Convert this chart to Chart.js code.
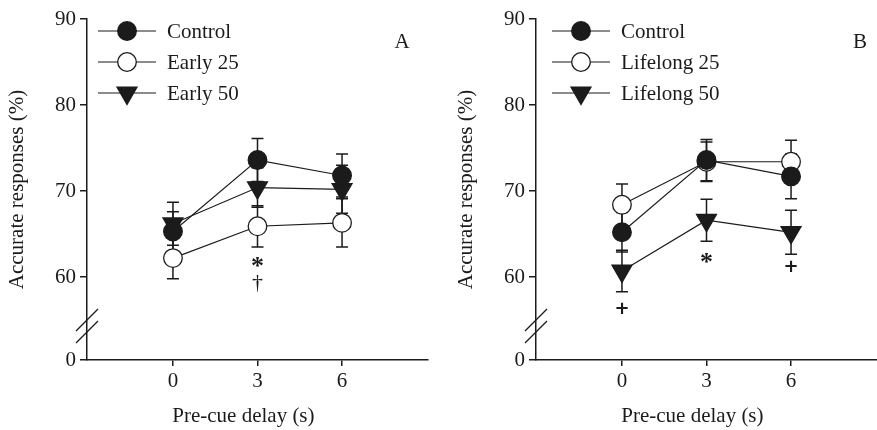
<!DOCTYPE html>
<html lang="en">
<head>
<meta charset="UTF-8">
<title>Accurate responses</title>
<script src="https://cdn.jsdelivr.net/npm/chart.js"></script>
<style>
    body { margin: 0; background: #fff; }
    .panel { position: absolute; top: 0; }
    #panelA { left: 0; }
    #panelB { left: 449px; }
</style>
</head>
<body>
<div class="panel" id="panelA"><canvas id="chartA" width="437" height="430"></canvas></div>
<div class="panel" id="panelB"><canvas id="chartB" width="428" height="430"></canvas></div>

<script>
// pre-cue delays (s)
const delays = [0, 3, 6];

// y axis is broken: the bottom tick "0" sits just under 60
const yTickValues = [50.35, 60, 70, 80, 90];
const yTickLabels = ['0', '60', '70', '80', '90'];

// panel A
const controlA = [65.3, 73.6, 71.8];
const controlAErr = [2.3, 2.5, 2.5];
const early25 = [62.2, 65.9, 66.3];
const early25Err = [2.4, 2.4, 2.8];
const early50 = [66.2, 70.4, 70.2];
const early50Err = [2.5, 2.3, 2.8];
const marksA = [{ x: 3, y: 61.7, t: '*' }, { x: 3, y: 59.3, t: '\u2020' }];

// panel B
const controlB = [65.2, 73.6, 71.7];
const controlBErr = [2.3, 2.4, 2.6];
const lifelong25 = [68.4, 73.4, 73.4];
const lifelong25Err = [2.4, 2.3, 2.5];
const lifelong50 = [60.7, 66.6, 65.2];
const lifelong50Err = [2.4, 2.45, 2.55];
const marksB = [{ x: 0, y: 56.4, t: '+' }, { x: 3, y: 62.2, t: '*' }, { x: 6, y: 61.3, t: '+' }];

const ink = '#1b1b1b';
const serif = '"Liberation Serif", "DejaVu Serif", serif';

// fonts for the significance marks
const markFonts = {
    '*': 'bold 26px ' + serif,
    '+': 'bold 18px "DejaVu Sans", sans-serif',
    '\u2020': '22px ' + serif
};

function series(label, values, errs, kind) {
    const filled = kind !== 'open';
    return {
        label: label,
        data: values.map((v, i) => ({ x: delays[i], y: v })),
        errs: errs,
        kind: kind,
        borderColor: ink,
        borderWidth: 1.2,
        pointStyle: kind === 'tri' ? 'triangle' : 'circle',
        rotation: kind === 'tri' ? 180 : 0,
        pointRadius: kind === 'tri' ? 11.5 : 9.3,
        pointBackgroundColor: filled ? ink : '#fff',
        pointBorderColor: ink,
        pointBorderWidth: 1.3,
        fill: false
    };
}

function drawMarker(ctx, kind, x, y) {
    ctx.save();
    ctx.fillStyle = kind === 'open' ? '#fff' : ink;
    ctx.strokeStyle = ink;
    ctx.lineWidth = 1.3;
    ctx.beginPath();
    if (kind === 'tri') {
        const r = 11.5;
        ctx.moveTo(x - r * 0.866, y - r / 2);
        ctx.lineTo(x + r * 0.866, y - r / 2);
        ctx.lineTo(x, y + r);
        ctx.closePath();
    } else {
        ctx.arc(x, y, 9.3, 0, Math.PI * 2);
    }
    ctx.fill();
    ctx.stroke();
    ctx.restore();
}

function makeChart(id, sets, marks, cfg) {
    const decor = {
        id: 'decor',
        beforeDatasetsDraw(chart) {
            const ctx = chart.ctx, xs = chart.scales.x, ys = chart.scales.y;
            ctx.save();
            ctx.strokeStyle = ink;
            ctx.lineWidth = 1.5;
            chart.data.datasets.forEach(ds => {
                ds.data.forEach((p, i) => {
                    const px = xs.getPixelForValue(p.x);
                    const top = ys.getPixelForValue(p.y + ds.errs[i]);
                    const bot = ys.getPixelForValue(p.y - ds.errs[i]);
                    ctx.beginPath();
                    ctx.moveTo(px, top); ctx.lineTo(px, bot);
                    ctx.moveTo(px - 6, top); ctx.lineTo(px + 6, top);
                    ctx.moveTo(px - 6, bot); ctx.lineTo(px + 6, bot);
                    ctx.stroke();
                });
            });
            ctx.restore();
        },
        afterDraw(chart) {
            const ctx = chart.ctx, xs = chart.scales.x, ys = chart.scales.y;
            ctx.save();
            // axis break
            const ax = chart.chartArea.left;
            const by = ys.getPixelForValue(54.3);
            ctx.strokeStyle = ink;
            ctx.lineWidth = 1.2;
            [-6, 6].forEach(d => {
                ctx.beginPath();
                ctx.moveTo(ax - 11, by + d + 11);
                ctx.lineTo(ax + 11, by + d - 11);
                ctx.stroke();
            });

            // significance marks
            ctx.fillStyle = ink;
            ctx.textAlign = 'center';
            ctx.textBaseline = 'alphabetic';
            marks.forEach(m => {
                ctx.font = markFonts[m.t];
                const mt = ctx.measureText(m.t);
                const px = xs.getPixelForValue(m.x);
                const py = ys.getPixelForValue(m.y) + (mt.actualBoundingBoxAscent - mt.actualBoundingBoxDescent) / 2;
                ctx.fillText(m.t, px, py);
            });

            // legend
            ctx.font = '21px ' + serif;
            ctx.textAlign = 'left';
            ctx.textBaseline = 'middle';
            chart.data.datasets.forEach((ds, i) => {
                const ry = 31 + i * 31;
                ctx.strokeStyle = ink;
                ctx.lineWidth = 1.2;
                ctx.beginPath();
                ctx.moveTo(cfg.legendX, ry);
                ctx.lineTo(cfg.legendX + 58, ry);
                ctx.stroke();
                drawMarker(ctx, ds.kind, cfg.legendX + 29, ry);
                ctx.fillStyle = ink;
                ctx.fillText(ds.label, cfg.legendX + 69, ry + 1);
            });

            // panel letter
            ctx.textAlign = 'center';
            ctx.fillText(cfg.letter, cfg.letterX, 42);

            // x title
            ctx.fillText('Pre-cue delay (s)', xs.getPixelForValue(2.5), 416);
            ctx.restore();
        }
    };

    return new Chart(document.getElementById(id), {
        type: 'line',
        data: { datasets: sets },
        options: {
            responsive: false,
            animation: false,
            layout: { autoPadding: false, padding: { top: 19, right: cfg.right, left: 0, bottom: 0 } },
            plugins: { legend: { display: false }, tooltip: { enabled: false } },
            scales: {
                x: {
                    type: 'linear',
                    min: -3.05,
                    max: 9.05,
                    afterBuildTicks: s => { s.ticks = delays.map(v => ({ value: v })); },
                    afterFit: s => { s.height = 70; },
                    grid: { drawOnChartArea: false, drawTicks: true, tickLength: 6, color: ink, lineWidth: 1.5 },
                    border: { color: ink, width: 1.5 },
                    ticks: { color: ink, font: { family: serif, size: 21 }, padding: 3, maxRotation: 0 }
                },
                y: {
                    type: 'linear',
                    min: yTickValues[0],
                    max: 90,
                    afterBuildTicks: s => { s.ticks = yTickValues.map(v => ({ value: v })); },
                    afterFit: s => { s.width = 87; },
                    grid: { drawOnChartArea: false, drawTicks: true, tickLength: 7, color: ink, lineWidth: 1.5 },
                    border: { color: ink, width: 1.5 },
                    ticks: {
                        color: ink,
                        font: { family: serif, size: 21 },
                        padding: 4,
                        callback: (v) => yTickLabels[yTickValues.indexOf(v)]
                    },
                    title: {
                        display: true,
                        text: 'Accurate responses (%)',
                        color: ink,
                        font: { family: serif, size: 21 },
                        padding: { top: 5, bottom: 0 }
                    }
                }
            }
        },
        plugins: [decor]
    });
}

makeChart('chartA', [
    series('Control', controlA, controlAErr, 'filled'),
    series('Early 25', early25, early25Err, 'open'),
    series('Early 50', early50, early50Err, 'tri')
], marksA, { right: 9, legendX: 98, letter: 'A', letterX: 402 });

makeChart('chartB', [
    series('Control', controlB, controlBErr, 'filled'),
    series('Lifelong 25', lifelong25, lifelong25Err, 'open'),
    series('Lifelong 50', lifelong50, lifelong50Err, 'tri')
], marksB, { right: 0, legendX: 103, letter: 'B', letterX: 411 });
</script>
</body>
</html>
